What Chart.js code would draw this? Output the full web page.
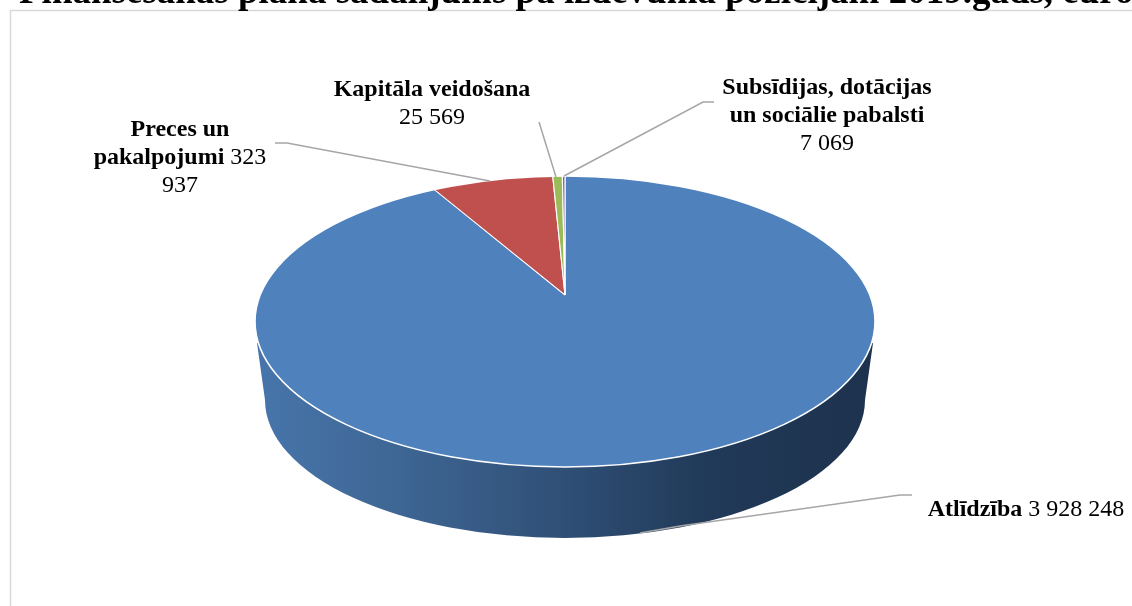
<!DOCTYPE html>
<html><head><meta charset="utf-8">
<style>html,body{margin:0;padding:0;background:#fff;overflow:hidden}canvas{display:block}</style>
<script src="https://cdn.jsdelivr.net/npm/chart.js@4"></script>
</head><body><canvas id="c" width="1132" height="606"></canvas>
<script>
const categories = ["Atlīdzība", "Preces un pakalpojumi", "Kapitāla veidošana", "Subsīdijas, dotācijas un sociālie pabalsti"];
const values = [3928248, 323937, 25569, 7069];
const colors = ["#4f81bd", "#c0504d", "#9bbb59", "#8064a2"];
const titleText = "Finansēšanas plāna sadalījums pa izdevuma pozīcijām 2019.gads, euro";

const fmt = v => String(v).replace(/\B(?=(\d{3})+$)/g, " ");
const SERIF = '"Liberation Serif"';
const FONT = 24;
const LINE_H = 27.7;
// wrapped label text: each line is [bold part, regular part]
const labelLines = [
  [["Atlīdzība", " " + fmt(values[0])]],
  [["Preces un", ""], ["pakalpojumi", " 323"], ["", "937"]],
  [["Kapitāla veidošana", ""], ["", fmt(values[2])]],
  [["Subsīdijas, dotācijas", ""], ["un sociālie pabalsti", ""], ["", fmt(values[3])]]
];
const labelAnchor = [[1026, 510], [180, 130], [432, 90], [827, 88]];
const leaders = [
  [[912, 495], [900, 495], [680, 526], [640, 533]],
  [[275, 143], [287, 143], [490, 181]],
  [[539, 122], [556, 177]],
  [[714, 102], [703, 102], [564, 176]]
];
const TOP = {cx: 565, cy: 321.5, rx: 310, ry: 145.5};
const BOTTOM = {cx: 565, cy: 400, rx: 300, ry: 138};
const APEX = {x: 565, y: 295, reach: 430, squash: 0.465};

const pie3d = {
  id: "pie3d",
  beforeDatasetsDraw(chart) {
    const ctx = chart.ctx, arc = chart.getDatasetMeta(0).data[0];
    // side wall
    ctx.save();
    const g = ctx.createLinearGradient(TOP.cx - TOP.rx, 0, TOP.cx + TOP.rx, 0);
    g.addColorStop(0, "#4775ab");
    g.addColorStop(0.22, "#3f6795");
    g.addColorStop(0.5, "#2f4f76");
    g.addColorStop(0.72, "#213a59");
    g.addColorStop(1, "#1d324d");
    ctx.fillStyle = g;
    ctx.beginPath();
    ctx.moveTo(257, 343);
    ctx.lineTo(BOTTOM.cx - BOTTOM.rx, BOTTOM.cy);
    ctx.ellipse(BOTTOM.cx, BOTTOM.cy, BOTTOM.rx, BOTTOM.ry, 0, Math.PI, 0, true);
    ctx.lineTo(873, 343);
    ctx.closePath();
    ctx.fill();
    ctx.restore();
    // top face: the library's arcs, projected and trimmed to the ellipse
    ctx.save();
    ctx.beginPath();
    ctx.ellipse(TOP.cx, TOP.cy, TOP.rx, TOP.ry, 0, 0, Math.PI * 2);
    ctx.clip();
    const s = APEX.reach / arc.outerRadius;
    ctx.translate(APEX.x, APEX.y);
    ctx.scale(s, s * APEX.squash);
    ctx.translate(-arc.x, -arc.y);
  },
  afterDatasetsDraw(chart) {
    const ctx = chart.ctx;
    ctx.restore();
    ctx.save();
    ctx.strokeStyle = "#ffffff";
    ctx.lineWidth = 1.6;
    ctx.beginPath();
    ctx.ellipse(TOP.cx, TOP.cy, TOP.rx, TOP.ry, 0, 0, Math.PI * 2);
    ctx.stroke();
    // frame
    ctx.strokeStyle = "#d9d9d9";
    ctx.lineWidth = 1.5;
    ctx.beginPath();
    ctx.moveTo(10.5, 606); ctx.lineTo(10.5, 10.5); ctx.lineTo(1132, 10.5);
    ctx.stroke();
    // leader lines
    ctx.strokeStyle = "#a6a6a6";
    ctx.lineWidth = 1.5;
    leaders.forEach(pts => {
      ctx.beginPath();
      pts.forEach((p, i) => i ? ctx.lineTo(p[0], p[1]) : ctx.moveTo(p[0], p[1]));
      ctx.stroke();
    });
    // title
    ctx.fillStyle = "#000";
    ctx.textBaseline = "alphabetic";
    ctx.textAlign = "left";
    ctx.font = "bold 37px " + SERIF;
    ctx.fillText(titleText, 19, 3);
    // labels
    ctx.textBaseline = "middle";
    labelLines.forEach((lines, i) => {
      lines.forEach((ln, j) => {
        const y = labelAnchor[i][1] + j * LINE_H;
        ctx.font = "bold " + FONT + "px " + SERIF;
        const w1 = ctx.measureText(ln[0]).width;
        ctx.font = FONT + "px " + SERIF;
        const w2 = ctx.measureText(ln[1]).width;
        let x = labelAnchor[i][0] - (w1 + w2) / 2;
        ctx.font = "bold " + FONT + "px " + SERIF;
        if (ln[0]) ctx.fillText(ln[0], x, y);
        ctx.font = FONT + "px " + SERIF;
        if (ln[1]) ctx.fillText(ln[1], x + w1, y);
      });
    });
    ctx.restore();
  }
};

new Chart(document.getElementById("c"), {
  type: "pie",
  data: {
    labels: categories,
    datasets: [{
      data: values,
      backgroundColor: colors,
      borderColor: "#ffffff",
      borderWidth: 0.8,
      clip: false
    }]
  },
  options: {
    responsive: false,
    animation: false,
    plugins: {legend: {display: false}, tooltip: {enabled: false}, title: {display: false}}
  },
  plugins: [pie3d]
});
</script></body></html>
